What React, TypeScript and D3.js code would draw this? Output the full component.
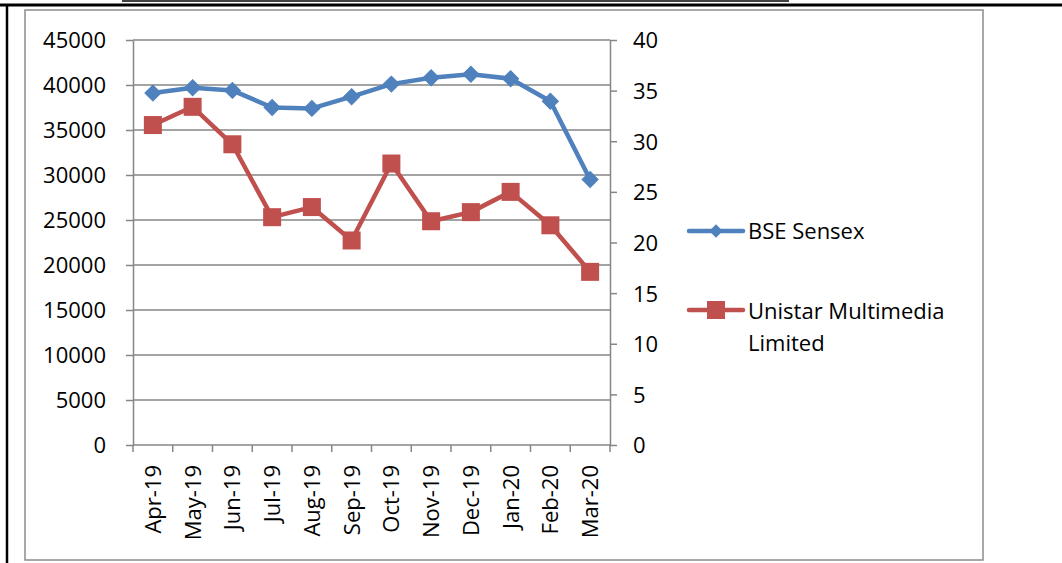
import React, { useRef, useEffect } from 'react';
import * as d3 from 'd3';

const months = ['Apr-19', 'May-19', 'Jun-19', 'Jul-19', 'Aug-19', 'Sep-19', 'Oct-19', 'Nov-19', 'Dec-19', 'Jan-20', 'Feb-20', 'Mar-20'];
const sensex = [39100, 39700, 39400, 37500, 37400, 38700, 40100, 40800, 41200, 40700, 38200, 29500];
const unistar = [31.6, 33.4, 29.7, 22.5, 23.5, 20.2, 27.8, 22.1, 23.0, 25.0, 21.7, 17.1];
const leftTicks = [0, 5000, 10000, 15000, 20000, 25000, 30000, 35000, 40000, 45000];
const rightTicks = [0, 5, 10, 15, 20, 25, 30, 35, 40];
const seriesNames = ['BSE Sensex', 'Unistar Multimedia', 'Limited'];

const BLUE = '#4F81BD';
const RED = '#C0504D';
const GRID = '#868686';
const FONT = '"Open Sans", sans-serif';

function App() {
  const chartRef = useRef<SVGSVGElement>(null);

  useEffect(() => {
    const svg = d3.select(chartRef.current);
    svg.selectAll('*').remove();

    const width = 1062, height = 563;
    const left = 133, right = 610, top = 40, bottom = 445;

    svg.attr('width', width).attr('height', height);

    // page lines + chart frame
    svg.append('line').attr('x1', 0).attr('x2', width).attr('y1', 5).attr('y2', 5)
      .attr('stroke', '#000').attr('stroke-width', 3);
    svg.append('line').attr('x1', 7).attr('x2', 7).attr('y1', 5).attr('y2', height)
      .attr('stroke', '#000').attr('stroke-width', 2.5);
    svg.append('line').attr('x1', 122).attr('x2', 789).attr('y1', 1).attr('y2', 1)
      .attr('stroke', '#000').attr('stroke-width', 1.5);
    svg.append('rect').attr('x', 25).attr('y', 10).attr('width', 958).attr('height', 550)
      .attr('fill', '#fff').attr('stroke', '#8c8c8c').attr('stroke-width', 1.5);

    const x = d3.scaleBand().domain(months).range([left, right]);
    const yL = d3.scaleLinear().domain([0, 45000]).range([bottom, top]);
    const yR = d3.scaleLinear().domain([0, 40]).range([bottom, top]);

    // gridlines
    svg.append('g').selectAll('line').data(leftTicks.slice(1)).join('line')
      .attr('x1', left).attr('x2', right)
      .attr('y1', (d) => yL(d)).attr('y2', (d) => yL(d))
      .attr('stroke', GRID).attr('stroke-width', 1.5);

    const styleAxis = (g: any) => {
      g.selectAll('path, line').attr('stroke', GRID).attr('stroke-width', 1.5);
      g.selectAll('text').attr('fill', '#000').style('font-family', FONT).style('font-size', '22px');
    };

    svg.append('g')
      .attr('transform', `translate(${left},0)`)
      .call(d3.axisLeft(yL).tickValues(leftTicks).tickSize(7).tickSizeOuter(0).tickPadding(20).tickFormat(d3.format('d')))
      .call(styleAxis)
      .call((g) => g.selectAll('text').attr('dy', '0.36em'));

    svg.append('g')
      .attr('transform', `translate(${right},0)`)
      .call(d3.axisRight(yR).tickValues(rightTicks).tickSize(7).tickSizeOuter(0).tickPadding(16))
      .call(styleAxis)
      .call((g) => g.selectAll('text').attr('dy', '0.36em'));

    // x axis with ticks at band boundaries
    const xg = svg.append('g').attr('transform', `translate(0,${bottom})`);
    xg.append('line').attr('x1', left).attr('x2', right).attr('stroke', GRID).attr('stroke-width', 1.5);
    xg.selectAll('line.tick').data([...months.map((m) => x(m) as number), right]).join('line')
      .attr('class', 'tick')
      .attr('x1', (d) => d).attr('x2', (d) => d).attr('y1', 0).attr('y2', 7)
      .attr('stroke', GRID).attr('stroke-width', 1.5);
    xg.selectAll('text').data(months).join('text')
      .attr('transform', (d) => `translate(${(x(d) as number) + x.bandwidth() / 2},20) rotate(-90)`)
      .attr('text-anchor', 'end')
      .attr('dy', '0.36em')
      .style('font-family', FONT).style('font-size', '22px')
      .text((d) => d);

    const cx = (i: number) => (x(months[i]) as number) + x.bandwidth() / 2;

    const lineL = d3.line<number>().x((d, i) => cx(i)).y((d) => yL(d));
    const lineR = d3.line<number>().x((d, i) => cx(i)).y((d) => yR(d));

    svg.append('path').datum(sensex).attr('fill', 'none').attr('stroke', BLUE)
      .attr('stroke-width', 4.5).attr('stroke-linejoin', 'round').attr('d', lineL);
    svg.append('path').datum(unistar).attr('fill', 'none').attr('stroke', RED)
      .attr('stroke-width', 4.5).attr('stroke-linejoin', 'round').attr('d', lineR);

    const diamond = d3.symbol().type(d3.symbolSquare).size(128);
    svg.append('g').selectAll('path').data(sensex).join('path')
      .attr('d', diamond)
      .attr('transform', (d, i) => `translate(${cx(i)},${yL(d)}) rotate(45)`)
      .attr('fill', BLUE).attr('stroke', BLUE).attr('stroke-width', 1);

    const sq = 18;
    svg.append('g').selectAll('rect').data(unistar).join('rect')
      .attr('x', (d, i) => cx(i) - sq / 2).attr('y', (d) => yR(d) - sq / 2)
      .attr('width', sq).attr('height', sq)
      .attr('fill', RED);

    // legend
    const legendDiamond = d3.symbol().type(d3.symbolSquare).size(90);
    const lg = svg.append('g');
    lg.append('line').attr('x1', 689).attr('x2', 743).attr('y1', 231).attr('y2', 231)
      .attr('stroke', BLUE).attr('stroke-width', 4.5).attr('stroke-linecap', 'round');
    lg.append('path').attr('d', legendDiamond).attr('transform', 'translate(716,231) rotate(45)').attr('fill', BLUE);
    lg.append('line').attr('x1', 689).attr('x2', 743).attr('y1', 310).attr('y2', 310)
      .attr('stroke', RED).attr('stroke-width', 4.5).attr('stroke-linecap', 'round');
    lg.append('rect').attr('x', 716 - sq / 2).attr('y', 310 - sq / 2).attr('width', sq).attr('height', sq).attr('fill', RED);

    const legendText = [[seriesNames[0], 231], [seriesNames[1], 311], [seriesNames[2], 343]];
    lg.selectAll('text').data(legendText).join('text')
      .attr('x', 748).attr('y', (d) => d[1] as number).attr('dy', '0.36em')
      .style('font-family', FONT).style('font-size', '22px')
      .text((d) => d[0] as string);
  }, []);

  return <svg ref={chartRef} style={{ position: 'absolute', left: 0, top: 0 }}></svg>;
}

export default App;
